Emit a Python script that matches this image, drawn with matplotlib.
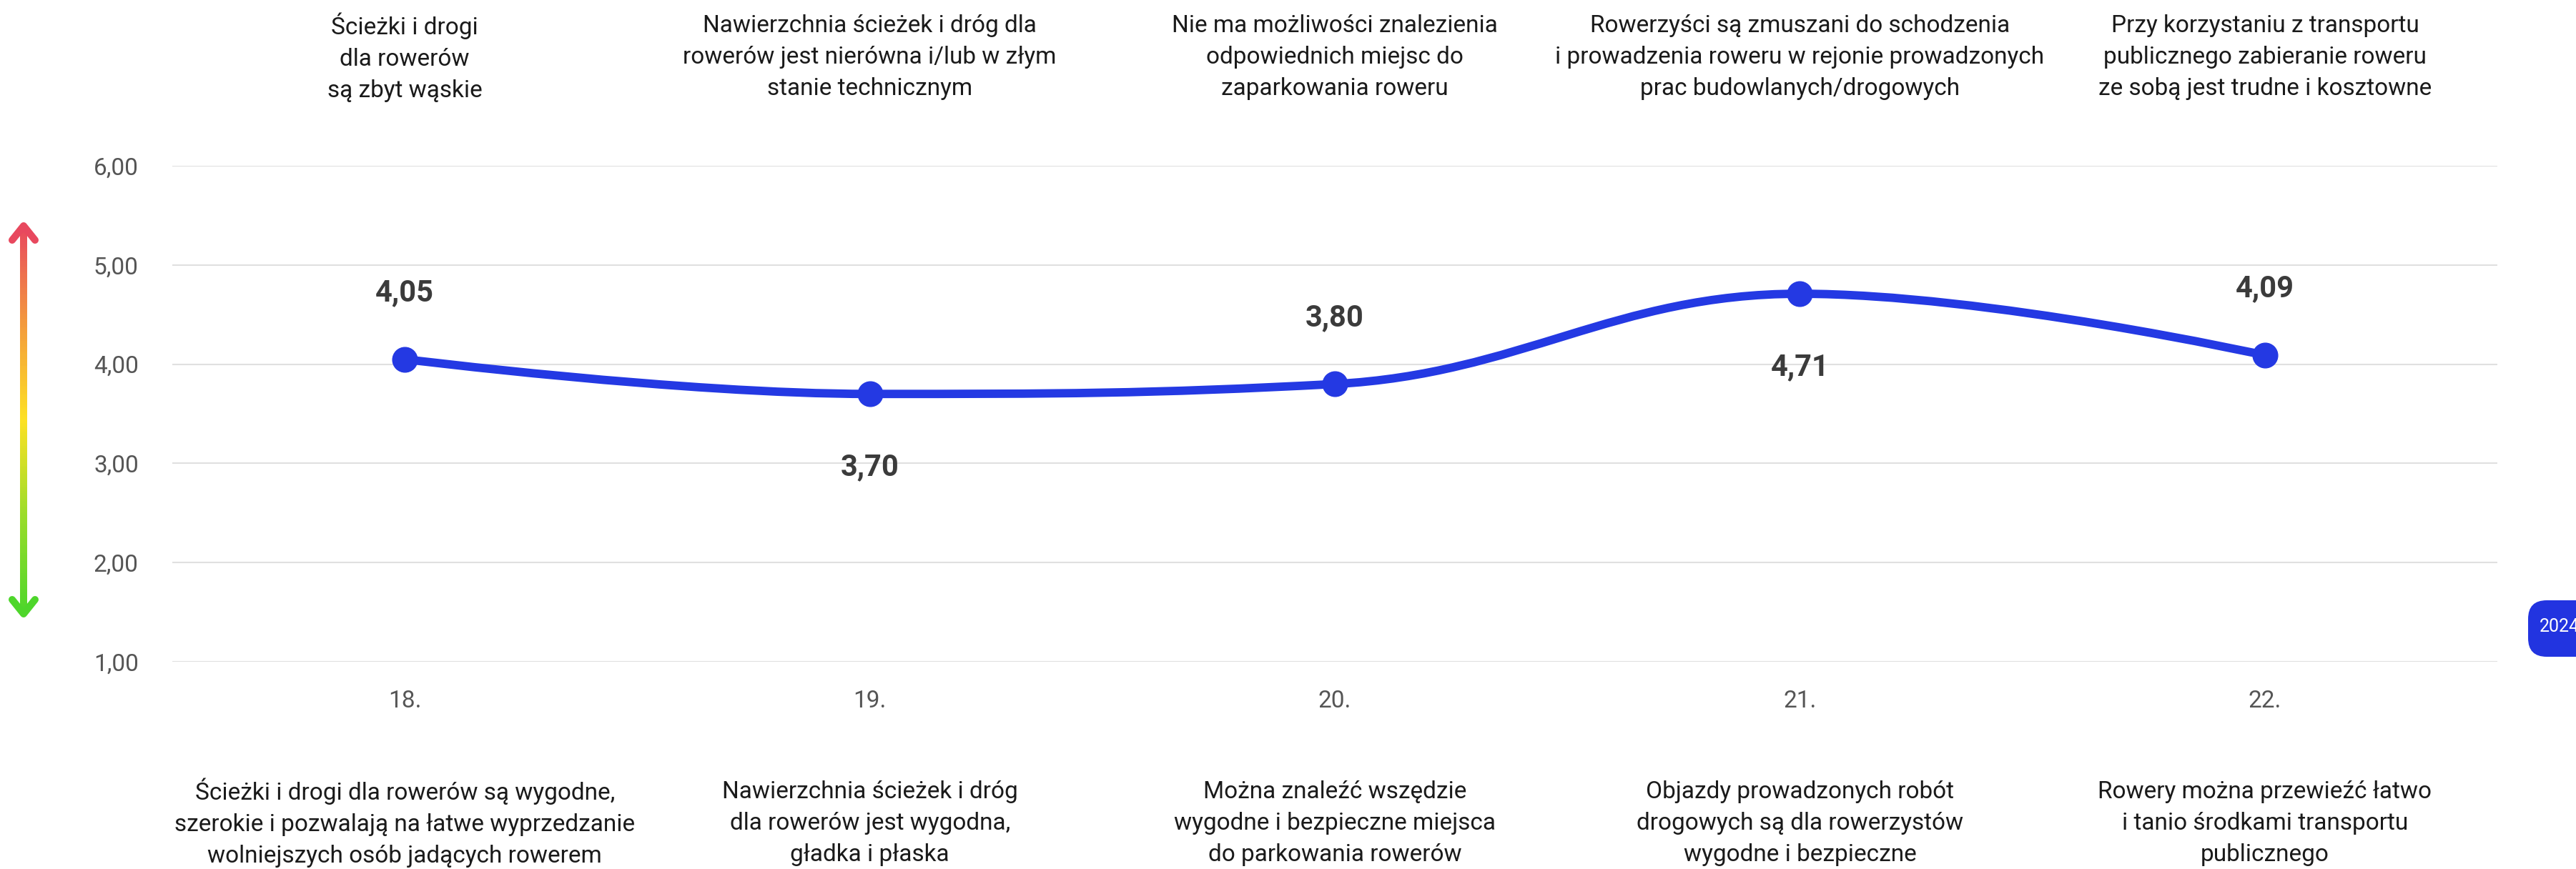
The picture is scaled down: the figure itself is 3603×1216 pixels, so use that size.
import numpy as np
import matplotlib
matplotlib.use("Agg")
import matplotlib.pyplot as plt
from matplotlib.path import Path
from matplotlib.patches import PathPatch, FancyBboxPatch
from matplotlib.collections import LineCollection
from matplotlib.colors import LinearSegmentedColormap
from matplotlib.transforms import blended_transform_factory

plt.rcParams['font.family'] = ['Roboto', 'DejaVu Sans']

## Dane
categories = ["18.", "19.", "20.", "21.", "22."]
values = [4.05, 3.70, 3.80, 4.71, 4.09]
value_labels = ["4,05", "3,70", "3,80", "4,71", "4,09"]
label_side = ["above", "below", "above", "below", "above"]
y_ticks = [1, 2, 3, 4, 5, 6]
y_tick_labels = ["1,00", "2,00", "3,00", "4,00", "5,00", "6,00"]

top_labels = [
    "Ścieżki i drogi\ndla rowerów\nsą zbyt wąskie",
    "Nawierzchnia ścieżek i dróg dla\nrowerów jest nierówna i/lub w złym\nstanie technicznym",
    "Nie ma możliwości znalezienia\nodpowiednich miejsc do\nzaparkowania roweru",
    "Rowerzyści są zmuszani do schodzenia\ni prowadzenia roweru w rejonie prowadzonych\nprac budowlanych/drogowych",
    "Przy korzystaniu z transportu\npublicznego zabieranie roweru\nze sobą jest trudne i kosztowne",
]
bottom_labels = [
    "Ścieżki i drogi dla rowerów są wygodne,\nszerokie i pozwalają na łatwe wyprzedzanie\nwolniejszych osób jadących rowerem",
    "Nawierzchnia ścieżek i dróg\ndla rowerów jest wygodna,\ngładka i płaska",
    "Można znaleźć wszędzie\nwygodne i bezpieczne miejsca\ndo parkowania rowerów",
    "Objazdy prowadzonych robót\ndrogowych są dla rowerzystów\nwygodne i bezpieczne",
    "Rowery można przewieźć łatwo\ni tanio środkami transportu\npublicznego",
]
year = "2024"

line_color = "#2439e3"


## Krzywa typu spline (punkty kontrolne Beziera jak w Highcharts)
def spline_path(xs, ys, smoothing=1.5):
    n = len(xs)
    left = [None] * n
    right = [None] * n
    d = smoothing + 1
    for i in range(1, n - 1):
        lx = (smoothing * xs[i] + xs[i - 1]) / d
        ly = (smoothing * ys[i] + ys[i - 1]) / d
        rx = (smoothing * xs[i] + xs[i + 1]) / d
        ry = (smoothing * ys[i] + ys[i + 1]) / d
        corr = (ry - ly) * (rx - xs[i]) / (rx - lx) + ys[i] - ry
        ly += corr
        ry += corr
        if ly > ys[i - 1] and ly > ys[i]:
            ly = max(ys[i - 1], ys[i]); ry = 2 * ys[i] - ly
        elif ly < ys[i - 1] and ly < ys[i]:
            ly = min(ys[i - 1], ys[i]); ry = 2 * ys[i] - ly
        if ry > ys[i + 1] and ry > ys[i]:
            ry = max(ys[i + 1], ys[i]); ly = 2 * ys[i] - ry
        elif ry < ys[i + 1] and ry < ys[i]:
            ry = min(ys[i + 1], ys[i]); ly = 2 * ys[i] - ry
        left[i] = (lx, ly)
        right[i] = (rx, ry)
    verts = [(xs[0], ys[0])]
    codes = [Path.MOVETO]
    for i in range(1, n):
        c1 = right[i - 1] if right[i - 1] else (xs[i - 1], ys[i - 1])
        c2 = left[i] if left[i] else (xs[i], ys[i])
        verts += [c1, c2, (xs[i], ys[i])]
        codes += [Path.CURVE4] * 3
    return Path(verts, codes)


fig = plt.figure(figsize=(36.03, 12.16), dpi=100)
ax = fig.add_axes([0.0669, 0.2385, 0.9026, 0.5707])

x = np.arange(len(categories))
ax.add_patch(PathPatch(spline_path(list(x), values), facecolor="none",
                       edgecolor=line_color, lw=8.5, capstyle="round", zorder=3))
ax.plot(x, values, "o", color=line_color, markersize=25, zorder=4)

for xi, v, lab, side in zip(x, values, value_labels, label_side):
    off = 67 if side == "above" else -74
    ax.annotate(lab, (xi, v), xytext=(0, off), textcoords="offset points",
                ha="center", va="center", fontsize=30, fontweight="bold",
                color="#3b3b3b")

ax.set_xlim(-0.5, 4.5)
ax.set_ylim(1, 6)
ax.set_yticks(y_ticks)
ax.set_yticklabels(y_tick_labels)
ax.set_xticks(x)
ax.set_xticklabels(categories)
ax.tick_params(axis="both", length=0, labelsize=24, labelcolor="#555555")
ax.tick_params(axis="y", pad=34)
ax.tick_params(axis="x", pad=28)
ax.grid(axis="y", color="#e0e0e0", lw=1.5)
ax.set_axisbelow(True)
for s in ax.spines.values():
    s.set_visible(False)

## Opisy nad i pod wykresem
tr = blended_transform_factory(ax.transData, fig.transFigure)
for xi, t in zip(x, top_labels):
    ax.text(xi, 0.934, t, transform=tr, ha="center", va="center",
            fontsize=24, color="#1a1a1a", linespacing=1.48, clip_on=False)
for xi, t in zip(x, bottom_labels):
    ax.text(xi, 0.053, t, transform=tr, ha="center", va="center",
            fontsize=24, color="#1a1a1a", linespacing=1.48, clip_on=False)

## Strzałka z gradientem po lewej
over = fig.add_axes([0, 0, 1, 1], facecolor="none")
over.set_xlim(0, 3603)
over.set_ylim(1216, 0)
over.axis("off")
cmap = LinearSegmentedColormap.from_list("rg", ["#e8485e", "#f39a3d", "#fde124", "#9adc2a", "#4ed62b"])
ys_arr = np.linspace(316, 859, 200)
segs = [[(33, ys_arr[i]), (33, ys_arr[i + 1])] for i in range(len(ys_arr) - 1)]
lc = LineCollection(segs, colors=cmap(np.linspace(0, 1, len(segs))), linewidths=7.2,
                    capstyle="butt")
over.add_collection(lc)
over.plot([17, 33, 49], [336, 316, 336], color="#e8485e", lw=7.2,
          solid_capstyle="round", solid_joinstyle="round")
over.plot([17, 33, 49], [839, 859, 839], color="#4ed62b", lw=7.2,
          solid_capstyle="round", solid_joinstyle="round")

## Znacznik roku
badge = FancyBboxPatch((3536, 840), 100, 79, boxstyle="round,pad=0,rounding_size=26",
                       facecolor="#2234e0", edgecolor="none")
over.add_patch(badge)
over.text(3552, 877, year, color="white", fontsize=18, ha="left", va="center")

fig.savefig("out.png", dpi=100)
